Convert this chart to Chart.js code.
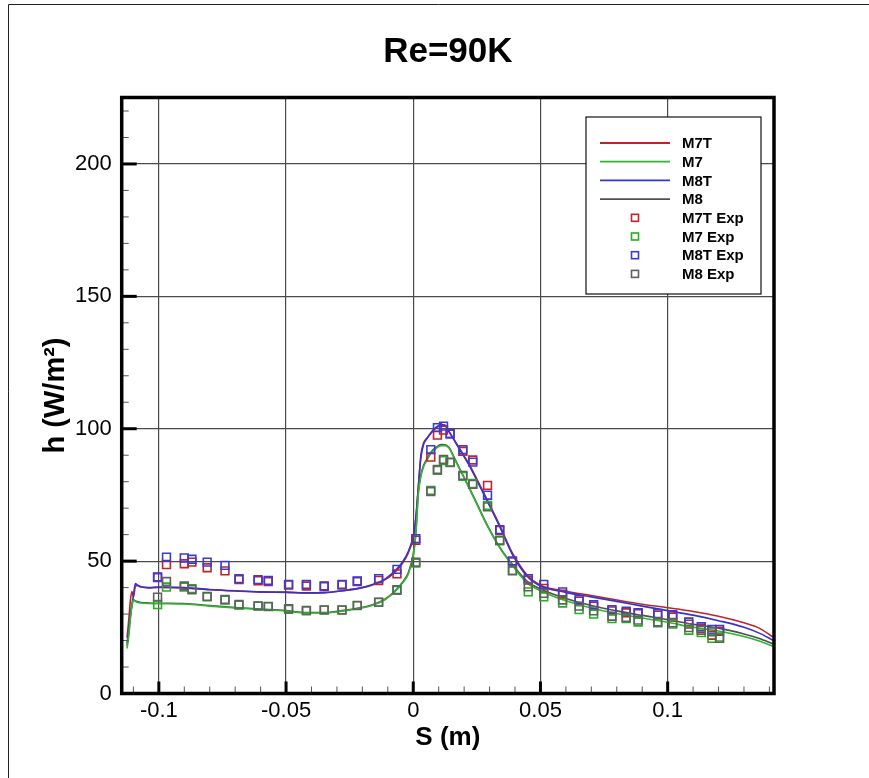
<!DOCTYPE html>
<html>
<head>
<meta charset="utf-8">
<title>Re=90K</title>
<script src="https://cdn.jsdelivr.net/npm/chart.js@4/dist/chart.umd.min.js"></script>
<style>
  html, body { margin: 0; padding: 0; background: #fff; }
  #chart { display: block; }
</style>
</head>
<body>
<canvas id="chart" width="869" height="778"></canvas>
<script>
// Surface position S (m) for the computed curves
const sLine = [-0.1125, -0.1118, -0.1112, -0.1106, -0.1100, -0.1092, -0.1085, -0.107, -0.104, -0.100,
  -0.090, -0.080, -0.070, -0.060, -0.050, -0.042, -0.035, -0.028, -0.022, -0.016,
  -0.011, -0.007, -0.004, -0.002, 0.000, 0.001, 0.002, 0.003, 0.004,
  0.0055, 0.007, 0.009, 0.011, 0.0125, 0.014, 0.0165, 0.019, 0.022, 0.025, 0.029, 0.034, 0.039,
  0.045, 0.050, 0.060, 0.070, 0.080, 0.090, 0.100, 0.110, 0.120, 0.130, 0.136, 0.1414];

// Heat transfer coefficient h (W/m2), computed
const hM7T = [21, 28, 35, 38.5, 36.5, 40.5, 40.8, 40.2, 39.9, 40.1,
  39.9, 39.2, 38.7, 38.3, 38.2, 38.0, 38.1, 38.8, 39.6, 41.0,
  43.0, 46.0, 49.5, 53, 59, 66, 78, 90, 94.5,
  96.5, 98.3, 100.3, 101.4, 101.2, 99, 95.2, 91.3, 86.5, 81, 73.3, 63.5, 53,
  44.5, 40.9, 38.6, 37, 35.3, 33.7, 32.4, 31, 29.2, 26.7, 24.7, 21.3];
const hM7 = [17, 22, 28, 33, 35.2, 34.8, 34.5, 34.2, 34.0, 33.9,
  33.8, 33.0, 32.3, 31.7, 31.1, 30.4, 30.4, 31.1, 32.0, 33.3,
  35.5, 38.6, 42, 45, 52, 60, 75.5, 82, 85.5,
  88.3, 90.8, 92.6, 93.6, 93.6, 92.8, 88, 83.3, 77.5, 71.5, 63.5, 55, 48.3,
  41.5, 38.8, 35, 32.3, 30.2, 28.5, 26.9, 25, 23.6, 21.5, 19.8, 17.8];
const hM8T = [19, 24, 30, 33, 37, 41.5, 41, 40.3, 40.0, 40.2,
  40.0, 39.3, 38.8, 38.4, 38.3, 38.0, 38.1, 38.8, 39.6, 41.2,
  43.3, 46.5, 50, 53.5, 59.5, 66, 78, 89, 93.8,
  96.5, 98.6, 100.6, 101.6, 101.3, 99, 95, 91, 86.2, 80.5, 72.8, 63, 52.5,
  44, 40.6, 38.2, 36.5, 34.8, 33, 31.3, 29.6, 27.5, 25, 22.8, 20.1];
const hM8 = [18, 23, 29, 33.5, 35.4, 35, 34.7, 34.4, 34.2, 34.1,
  34.0, 33.2, 32.5, 31.9, 31.3, 30.6, 30.6, 31.3, 32.2, 33.5,
  35.7, 38.9, 42.3, 45.5, 52.5, 60.5, 76, 82.5, 86,
  88.8, 91.2, 93, 94, 93.9, 93, 88.3, 83.5, 77.8, 71.8, 63.8, 55.3, 48.7,
  42.2, 39.5, 35.9, 33.2, 31.2, 29.5, 27.9, 26.1, 24.7, 22.5, 20.8, 18.8];

// Measurement stations S (m)
const sExp = [-0.1005, -0.097, -0.090, -0.087, -0.081, -0.074, -0.0685, -0.061, -0.057, -0.049,
  -0.042, -0.035, -0.028, -0.022, -0.0136, -0.0064, 0.001,
  0.0069, 0.0095, 0.0119, 0.0145, 0.0195, 0.0234, 0.0292, 0.034, 0.039,
  0.0452, 0.0513, 0.0587, 0.0652, 0.0709, 0.0781, 0.0837, 0.0884, 0.0961, 0.102,
  0.1083, 0.1132, 0.1174, 0.1204];

// Measured h (W/m2)
const hM7TExp = [43.8, 48.7, 49.0, 49.6, 47.5, 46.3, 43.0, 42.6, 42.3, 41.0,
  40.6, 40.4, 41.0, 42.3, 42.7, 45.2, 57.9,
  89.3, 97.6, 99.5, 98.1, 91.5, 88.2, 78.6, 61.6, 49.7,
  42.8, 39.7, 37.5, 34.9, 33.0, 31.2, 30.5, 30.2, 29.6, 28.9,
  26.2, 24.6, 22.0, 23.5];
const hM7Exp = [33.6, 40.2, 40.2, 39.6, 36.5, 35.3, 33.4, 33.0, 32.8, 31.8,
  31.2, 31.5, 31.5, 33.2, 34.4, 39.0, 49.3,
  76.7, 84.3, 88.0, 87.2, 82.0, 79.3, 71.0, 57.7, 46.5,
  38.4, 36.5, 34.2, 31.7, 30.0, 28.3, 28.3, 27.0, 26.7, 26.2,
  23.9, 23.0, 20.8, 21.3];
const hM8TExp = [44.0, 51.5, 51.2, 50.7, 49.6, 48.4, 43.4, 43.0, 42.7, 41.2,
  41.2, 40.6, 41.2, 42.5, 43.4, 46.9, 58.5,
  92.1, 100.4, 101.0, 98.1, 92.1, 87.4, 74.9, 61.9, 50.1,
  43.4, 41.2, 38.4, 35.5, 33.5, 31.7, 31.1, 30.5, 30.2, 29.8,
  27.0, 25.2, 24.2, 24.2];
const hM8Exp = [36.4, 42.3, 40.6, 39.2, 36.7, 35.5, 33.6, 33.1, 32.9, 32.0,
  31.4, 31.6, 31.6, 33.3, 34.5, 39.2, 49.6,
  76.3, 84.6, 88.4, 87.4, 82.4, 79.0, 70.5, 57.9, 46.3,
  40.3, 37.8, 35.3, 33.0, 31.2, 29.2, 28.7, 27.7, 27.0, 26.7,
  24.9, 23.9, 23.3, 20.8];

const FONT = "'Liberation Sans', Arial, Helvetica, sans-serif";

function pts(xs, ys) {
  return xs.map((x, i) => ({ x: x, y: ys[i] }));
}

// order: higher numbers are painted first (underneath)
function lineSet(label, ys, color, order) {
  return {
    type: 'line', label: label, data: pts(sLine, ys),
    borderColor: color, backgroundColor: color, borderWidth: 1.6,
    pointRadius: 0, showLine: true, fill: false,
    cubicInterpolationMode: 'monotone', order: order
  };
}

function expSet(label, ys, color, order) {
  return {
    type: 'scatter', label: label, data: pts(sExp, ys),
    borderColor: color, backgroundColor: 'rgba(0,0,0,0)', borderWidth: 1.6,
    pointStyle: 'rect', pointRadius: 5.5, showLine: false, order: order
  };
}

// white page + thin outer frame
const pagePlugin = {
  id: 'page',
  beforeDraw(chart) {
    const c = chart.ctx;
    c.save();
    c.fillStyle = '#fff';
    c.fillRect(0, 0, chart.width, chart.height);
    c.strokeStyle = '#222';
    c.lineWidth = 1;
    c.beginPath();
    c.moveTo(8.5, chart.height);
    c.lineTo(8.5, 4.5);
    c.lineTo(chart.width, 4.5);
    c.stroke();
    c.restore();
  }
};

// inward ticks (major + minor) and the heavy plot frame
const framePlugin = {
  id: 'frame',
  afterDatasetsDraw(chart) {
    const c = chart.ctx;
    const a = chart.chartArea;
    const xs = chart.scales.x, ys = chart.scales.y;
    c.save();
    for (let i = -11; i <= 14; i++) {
      const v = i / 100;
      const px = xs.getPixelForValue(v);
      const major = i % 5 === 0;
      c.beginPath();
      c.lineWidth = major ? 3 : 1;
      c.strokeStyle = major ? '#000' : '#555';
      c.moveTo(px, a.bottom);
      c.lineTo(px, a.bottom - (major ? 12 : 7));
      c.stroke();
    }
    for (let v = 0; v <= 220; v += 10) {
      const py = ys.getPixelForValue(v);
      const major = v % 50 === 0;
      c.beginPath();
      c.lineWidth = major ? 3 : 1;
      c.strokeStyle = major ? '#000' : '#555';
      c.moveTo(a.left, py);
      c.lineTo(a.left + (major ? 15 : 7), py);
      c.stroke();
    }
    c.lineWidth = 3.5;
    c.strokeStyle = '#000';
    c.strokeRect(a.left, a.top, a.right - a.left, a.bottom - a.top);
    c.restore();
  }
};

// boxed legend in the upper right of the plot
const keyPlugin = {
  id: 'key',
  afterDraw(chart) {
    const c = chart.ctx;
    const box = { x: 586, y: 117, w: 175, h: 177 };
    c.save();
    c.fillStyle = '#fff';
    c.fillRect(box.x, box.y, box.w, box.h);
    c.strokeStyle = '#111';
    c.lineWidth = 1.2;
    c.strokeRect(box.x, box.y, box.w, box.h);
    c.font = 'bold 15px ' + FONT;
    c.textBaseline = 'middle';
    c.textAlign = 'left';
    chart.data.datasets.forEach((ds, i) => {
      const y = 143 + i * 18.7;
      c.strokeStyle = ds.borderColor;
      if (ds.type === 'line') {
        c.lineWidth = 1.8;
        c.beginPath();
        c.moveTo(600, y);
        c.lineTo(670, y);
        c.stroke();
      } else {
        c.lineWidth = 1.6;
        c.strokeRect(631.5, y - 3.5, 7, 7);
      }
      c.fillStyle = '#000';
      c.fillText(ds.label, 682, y + 1);
    });
    c.restore();
  }
};

const chart = new Chart(document.getElementById('chart'), {
  type: 'scatter',
  data: {
    datasets: [
      lineSet('M7T', hM7T, '#c0232c', 8),
      lineSet('M7', hM7, '#2fb52f', 5),
      lineSet('M8T', hM8T, '#3434cc', 7),
      lineSet('M8', hM8, '#505050', 6),
      expSet('M7T Exp', hM7TExp, '#c0232c', 4),
      expSet('M7 Exp', hM7Exp, '#22b022', 2),
      expSet('M8T Exp', hM8TExp, '#3a3ad6', 3),
      expSet('M8 Exp', hM8Exp, '#606060', 1)
    ]
  },
  options: {
    responsive: false,
    animation: false,
    layout: { padding: { left: 0, right: 95, top: 0, bottom: 0 } },
    plugins: {
      legend: { display: false },
      tooltip: { enabled: false },
      title: {
        display: true,
        text: 'Re=90K',
        fullSize: false,
        color: '#000',
        font: { family: FONT, size: 35, weight: 'bold', lineHeight: 1.2 },
        padding: { top: 31.5, bottom: 24 }
      }
    },
    scales: {
      x: {
        type: 'linear',
        min: -0.1146,
        max: 0.1418,
        afterFit(scale) { scale.height = 84.5; },
        border: { display: false },
        grid: { color: '#4a4a4a', lineWidth: 1.2, drawTicks: false },
        ticks: {
          stepSize: 0.05,
          includeBounds: false,
          padding: 4,
          color: '#000',
          font: { family: FONT, size: 22 },
          callback: v => String(+v.toFixed(3))
        },
        title: {
          display: true,
          text: 'S (m)',
          color: '#000',
          font: { family: FONT, size: 26, weight: 'bold' },
          padding: { top: 0, bottom: 25 }
        }
      },
      y: {
        type: 'linear',
        min: 0,
        max: 225.1,
        afterFit(scale) { scale.width = 121.7; },
        border: { display: false },
        grid: { color: '#4a4a4a', lineWidth: 1.2, drawTicks: false },
        ticks: {
          stepSize: 50,
          includeBounds: false,
          padding: 10,
          color: '#000',
          font: { family: FONT, size: 22 },
          callback: v => String(v)
        },
        title: {
          display: true,
          text: 'h (W/m²)',
          color: '#000',
          font: { family: FONT, size: 29, weight: 'bold' },
          padding: { top: 39, bottom: 0 }
        }
      }
    }
  },
  plugins: [pagePlugin, framePlugin, keyPlugin]
});
</script>
</body>
</html>
